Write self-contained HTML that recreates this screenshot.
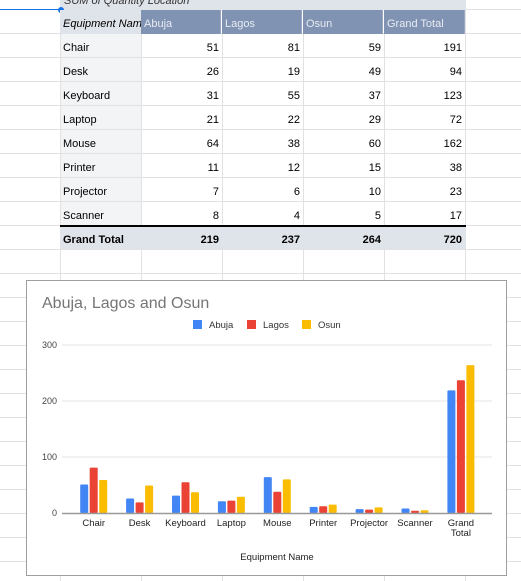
<!DOCTYPE html>
<html><head><meta charset="utf-8"><style>
body{margin:0;width:521px;height:581px;overflow:hidden;background:#fff;font-family:"Liberation Sans",Arial,sans-serif;position:relative}
.c{position:absolute;box-sizing:border-box;font-size:11px;color:#000;line-height:24px;padding:0 4px;white-space:nowrap;overflow:hidden}
.r{text-align:right}
#grid{position:absolute;left:0;top:0}
#chart{position:absolute;left:26px;top:280px;width:481px;height:296px;background:#fff;border:1px solid #9e9e9e;box-sizing:border-box}
</style></head><body>
<svg id="grid" width="521" height="581"></svg>
<div id="table"></div>
<div id="chart">
<svg id="cs" width="481" height="296" style="position:absolute;left:-1px;top:-1px"></svg>
</div>
<script>
const g=document.getElementById('grid');
let gs='';
const colX=[60,141,222,303,384,465];
for(let y=9;y<581;y+=24) gs+=`<line x1="0" x2="521" y1="${y+0.5}" y2="${y+0.5}" stroke="#e2e2e2"/>`;
colX.forEach(x=>gs+=`<line x1="${x+0.5}" x2="${x+0.5}" y1="0" y2="581" stroke="#e2e2e2"/>`);
g.innerHTML=gs;

const rows=["Chair","Desk","Keyboard","Laptop","Mouse","Printer","Projector","Scanner"];
const tAbuja=[51,26,31,21,64,11,7,8];
const tLagos=[81,19,55,22,38,12,6,4];
const tOsun=[59,49,37,29,60,15,10,5];
const T=document.getElementById('table');
let h='';
h+=`<div class="c" style="left:60px;top:-12px;width:406px;height:22px;background:#dfe3ea;font-style:italic;color:#333;line-height:26px">SUM of Quantity Location</div>`;
h+=`<div style="position:absolute;left:0;top:9px;width:60px;height:1px;background:#1a73e8"></div><div style="position:absolute;left:58px;top:7px;width:6px;height:6px;border-radius:3px;background:#1a73e8"></div>`;
h+=`<div class="c" style="left:60px;top:10px;width:81px;height:24px;background:#dfe3ea;font-style:italic;padding-left:3px;line-height:28px">Equipment Name</div>`;
["Abuja","Lagos","Osun","Grand Total"].forEach((t,i)=>{h+=`<div class="c" style="left:${141+81*i}px;top:10px;width:${i<3?80:81}px;height:24px;background:#8093b3;color:#e8ecf3;padding-left:3px;line-height:28px;border-right:1px solid #98a8c3">${t}</div>`;});
rows.forEach((r,i)=>{const y=34+24*i;
h+=`<div class="c" style="left:61px;top:${y}px;width:80px;height:23px;background:#f3f4f6;padding-left:2px;line-height:29px">${r}</div>`;
[tAbuja[i],tLagos[i],tOsun[i],tAbuja[i]+tLagos[i]+tOsun[i]].forEach((v,j)=>{h+=`<div class="c r" style="left:${141+81*j}px;top:${y}px;width:81px;height:23px;line-height:29px;padding-right:3px">${v}</div>`;});
});
const sum=a=>a.reduce((p,c)=>p+c,0);
h+=`<div style="position:absolute;left:60px;top:225px;width:406px;height:2px;background:#000"></div>`;
h+=`<div class="c" style="left:60px;top:227px;width:406px;height:22px;background:#dfe3ea"></div>`;
h+=`<div class="c" style="left:60px;top:227px;width:81px;height:22px;font-weight:bold;padding-left:3px;line-height:27px">Grand Total</div>`;
[sum(tAbuja),sum(tLagos),sum(tOsun),sum(tAbuja)+sum(tLagos)+sum(tOsun)].forEach((v,j)=>{h+=`<div class="c r" style="left:${141+81*j}px;top:227px;width:81px;height:22px;font-weight:bold;padding-right:3px;line-height:27px">${v}</div>`;});
T.innerHTML=h;
</script>
<script>
const categories=["Chair","Desk","Keyboard","Laptop","Mouse","Printer","Projector","Scanner","Grand Total"];
const abuja=[51,26,31,21,64,11,7,8,219];
const lagos=[81,19,55,22,38,12,6,4,237];
const osun=[59,49,37,29,60,15,10,5,264];
const yTicks=[0,100,200,300];
const seriesNames=["Abuja","Lagos","Osun"];
const colors=["#4285f4","#ea4335","#fbbc04"];
const x0=36,x1=466,yBase=233,yTop=65,yMax=300;
const yS=v=>yBase-(v/yMax)*(yBase-yTop);
const groupW=45.9, firstC=67.7;
const xC=i=>firstC+i*groupW;
const cs=document.getElementById('cs');
const NS="http://www.w3.org/2000/svg";
function el(t,a,txt){const e=document.createElementNS(NS,t);for(const k in a)e.setAttribute(k,a[k]);if(txt!=null)e.textContent=txt;cs.appendChild(e);return e;}
let e=el('text',{x:16,y:28,'font-size':16,fill:'#757575','font-family':'Liberation Sans'},'Abuja, Lagos and Osun');

const lx=[167,221,276];
seriesNames.forEach((n,i)=>{
 const r=el('rect',{x:lx[i],y:40,width:9,height:9,fill:colors[i]});
 
 const t=el('text',{x:lx[i]+16,y:48,'font-size':9.5,fill:'#333','font-family':'Liberation Sans'},n);
 
});
yTicks.forEach(v=>{
 if(v>0){const l=el('line',{x1:x0,x2:x1,y1:yS(v),y2:yS(v),stroke:'#e6e6e6'});}
 const t=el('text',{x:31,y:yS(v)+3,'font-size':9,'text-anchor':'end',fill:'#444','font-family':'Liberation Sans'},v);
 
});
const series=[abuja,lagos,osun];
series.forEach((s,si)=>s.forEach((v,i)=>{
 const cx=xC(i)+(si-1)*9.5;
 const r=el('rect',{x:cx-4,y:yS(v),width:8,height:yBase-yS(v),fill:colors[si],rx:1});
 
 
}));
const ax=el('line',{x1:x0,x2:x1,y1:yBase+0.5,y2:yBase+0.5,stroke:'#999','stroke-width':1.5});

categories.forEach((c,i)=>{
 const parts=c==="Grand Total"?["Grand","Total"]:[c];
 parts.forEach((p,k)=>{const t=el('text',{x:xC(i),y:yBase+13+k*10,'font-size':9.5,'text-anchor':'middle',fill:'#222','font-family':'Liberation Sans'},p);
 });
});
e=el('text',{x:251,y:280,'font-size':9.5,'text-anchor':'middle',fill:'#222','font-family':'Liberation Sans'},'Equipment Name');

</script>
</body></html>
